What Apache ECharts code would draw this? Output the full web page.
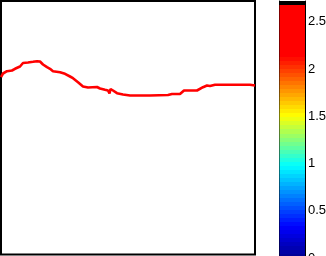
<!DOCTYPE html>
<html>
<head>
<meta charset="utf-8">
<script src="https://cdn.jsdelivr.net/npm/echarts@6/dist/echarts.min.js"></script>
<style>html,body{margin:0;padding:0;background:#fff;}#c{width:326px;height:256px;}</style>
</head>
<body>
<div id="c"></div>
<script>
// Line data (x position, height above plot bottom)
const lineX = [1, 3, 7, 12, 15, 20, 23, 28, 33, 37, 40, 43, 47, 50, 53, 60, 65, 70, 73, 78, 83, 88, 97, 100, 105, 108, 109.5, 110.5, 113, 117, 123, 130, 150, 168, 172, 180, 182, 184, 197, 199, 203, 207, 210, 215, 250, 255];
const lineY = [177.5, 181, 183.3, 184, 185.7, 188, 191.5, 192, 192.7, 193.3, 193, 190, 187.3, 185.7, 183.3, 182.3, 180.7, 178, 176.3, 172.3, 168, 167, 167.5, 166, 164.7, 164, 161, 165.5, 164, 161.3, 160, 159, 159, 159.5, 160.5, 160.5, 162.5, 164, 164, 166, 167.3, 169, 168.5, 169.7, 169.7, 169];
// Colorbar
const cbTicks = [0, 0.5, 1, 1.5, 2, 2.5];
const cbMax = 2.72;
const cbBands = 64;
// colormap anchors [value, r, g, b]
const cmapAnchors = [[0, 0, 0, 143], [0.33, 0, 0, 255], [0.98, 0, 255, 255], [1.5, 255, 255, 0], [2.14, 255, 0, 0], [2.72, 255, 0, 0]];

function cmap(v) {
  for (let i = 1; i < cmapAnchors.length; i++) {
    const a = cmapAnchors[i - 1], b = cmapAnchors[i];
    if (v <= b[0]) {
      const t = (v - a[0]) / (b[0] - a[0]);
      const c = [1, 2, 3].map(j => Math.round(a[j] + (b[j] - a[j]) * t));
      return 'rgb(' + c.join(',') + ')';
    }
  }
  const l = cmapAnchors[cmapAnchors.length - 1];
  return 'rgb(' + l[1] + ',' + l[2] + ',' + l[3] + ')';
}
const stops = [];
for (let k = 0; k < cbBands; k++) {
  const col = (k === cbBands - 1) ? '#000000' : cmap((k + 0.5) * cbMax / cbBands);
  stops.push({offset: k / cbBands, color: col});
  stops.push({offset: (k + 1) / cbBands, color: col});
}

const chart = echarts.init(document.getElementById('c'), null, {renderer: 'canvas'});
const font = {fontFamily: 'Liberation Sans', fontSize: 13, color: '#000'};
chart.setOption({
  animation: false,
  grid: [
    {left: 1, top: 1, width: 254, height: 253.5, show: true, borderColor: '#000', borderWidth: 2, backgroundColor: '#fff', outerBoundsMode: 'none'},
    {left: 279.5, top: 1, width: 25.5, height: 257, show: false, containLabel: false, outerBoundsMode: 'none'}
  ],
  xAxis: [
    {gridIndex: 0, type: 'value', min: 1, max: 255, show: false},
    {gridIndex: 1, type: 'category', data: ['cb'], show: true, boundaryGap: true,
     axisLine: {show: true, lineStyle: {color: '#000', width: 1}}, offset: -3.5,
     axisTick: {show: false}, axisLabel: {show: false}}
  ],
  yAxis: [
    {gridIndex: 0, type: 'value', min: 0, max: 253.5, show: false},
    {gridIndex: 1, type: 'value', position: 'right', min: 0, max: cbMax, interval: 0.5,
     axisLine: {show: true, lineStyle: {color: '#000', width: 1}},
     axisTick: {show: true, inside: true, length: 3, lineStyle: {color: '#000'}, customValues: cbTicks},
     axisLabel: Object.assign({show: true, margin: 3, customValues: cbTicks,
       formatter: v => String(v)}, font),
     splitLine: {show: false}},
    {gridIndex: 1, type: 'value', position: 'left', min: 0, max: cbMax, interval: 0.5,
     axisLine: {show: true, lineStyle: {color: '#000', width: 1}},
     axisTick: {show: true, inside: true, length: 3, lineStyle: {color: '#000'}, customValues: cbTicks},
     axisLabel: {show: false}, splitLine: {show: false}}
  ],
  series: [
    {type: 'line', xAxisIndex: 0, yAxisIndex: 0, data: lineX.map((x, i) => [x, lineY[i]]),
     showSymbol: false, symbol: 'none', lineStyle: {color: '#ff0000', width: 2.6}, silent: true},
    {type: 'bar', xAxisIndex: 1, yAxisIndex: 1, data: [cbMax], barWidth: '100%', silent: true,
     itemStyle: {color: {type: 'linear', x: 0, y: 1, x2: 0, y2: 0, colorStops: stops}}}
  ]
});
</script>
</body>
</html>
